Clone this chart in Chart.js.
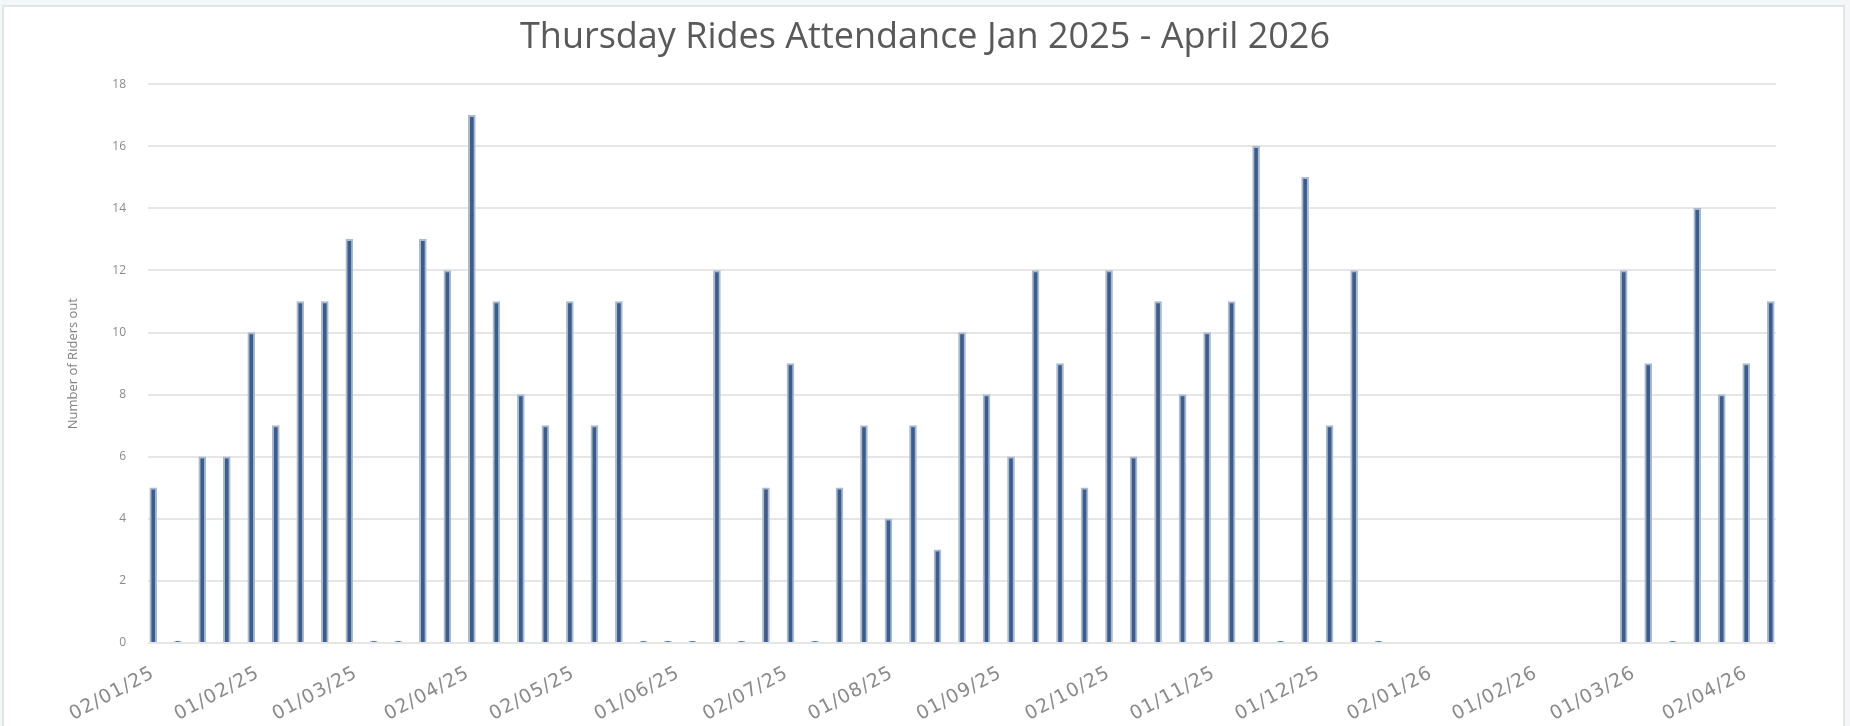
<!DOCTYPE html>
<html>
<head>
<meta charset="utf-8">
<title>Thursday Rides Attendance</title>
<script src="https://cdn.jsdelivr.net/npm/chart.js@4.4.1/dist/chart.umd.min.js"></script>
<style>
  html, body { margin: 0; padding: 0; background: #f2f7f7; overflow: hidden; }
  .frame { position: absolute; left: 2px; top: 5px; width: 1839px; height: 740px; background: #fff; border: 2px solid #e4e4e4; }
  .wrap { position: absolute; left: 0; top: 0; width: 1850px; height: 726px; }
</style>
</head>
<body>
<div class="frame"></div>
<div class="wrap"><canvas id="ridesChart"></canvas></div>
<script>
// ========== DATA ==========
// every Thursday, dd/mm/yy
const weeks = [
  "02/01/25", "09/01/25", "16/01/25", "23/01/25", "30/01/25",
  "06/02/25", "13/02/25", "20/02/25", "27/02/25",
  "06/03/25", "13/03/25", "20/03/25", "27/03/25",
  "03/04/25", "10/04/25", "17/04/25", "24/04/25",
  "01/05/25", "08/05/25", "15/05/25", "22/05/25", "29/05/25",
  "05/06/25", "12/06/25", "19/06/25", "26/06/25",
  "03/07/25", "10/07/25", "17/07/25", "24/07/25", "31/07/25",
  "07/08/25", "14/08/25", "21/08/25", "28/08/25",
  "04/09/25", "11/09/25", "18/09/25", "25/09/25",
  "02/10/25", "09/10/25", "16/10/25", "23/10/25", "30/10/25",
  "06/11/25", "13/11/25", "20/11/25", "27/11/25",
  "04/12/25", "11/12/25", "18/12/25", "25/12/25",
  "01/01/26", "08/01/26", "15/01/26", "22/01/26", "29/01/26",
  "05/02/26", "12/02/26", "19/02/26", "26/02/26",
  "05/03/26", "12/03/26", "19/03/26", "26/03/26",
  "02/04/26", "09/04/26"
];

// riders out each week, same rows as weeks above (null = no record)
const riders = [
  5, 0, 6, 6, 10,
  7, 11, 11, 13,
  0, 0, 13, 12,
  17, 11, 8, 7,
  11, 7, 11, 0, 0,
  0, 12, 0, 5,
  9, 0, 5, 7, 4,
  7, 3, 10, 8,
  6, 12, 9, 5,
  12, 6, 11, 8, 10,
  11, 16, 0, 15,
  7, 12, 0, null,
  null, null, null, null, null,
  null, null, null, 12,
  9, 0, 14, 8,
  9, 11
];

const tickLabels = [
  "02/01/25", "01/02/25", "01/03/25", "02/04/25", "02/05/25", "01/06/25",
  "02/07/25", "01/08/25", "01/09/25", "02/10/25", "01/11/25", "01/12/25",
  "02/01/26", "01/02/26", "01/03/26", "02/04/26"
];

const yTicks = [0, 2, 4, 6, 8, 10, 12, 14, 16, 18];

// dd/mm/yy -> days since the first Thursday
function toDay(s) {
  const [d, m, y] = s.split("/").map(Number);
  return Date.UTC(2000 + y, m - 1, d);
}
const day0 = toDay(weeks[0]);
const dayOf = (s) => (toDay(s) - day0) / 86400000;

const points = weeks.map((w, i) => ({ x: dayOf(w), y: riders[i] }));
const tickDays = tickLabels.map(dayOf);
const lastDay = dayOf(weeks[weeks.length - 1]);

// ========== CHART ==========
const axisGrey = "#8a8a8a";

// the date labels in the original are drawn loosely spaced
const spacedDates = {
  id: "spacedDates",
  afterLayout(chart) {
    const x = chart.scales.x;
    if (!x || x._spaced) return;
    const draw = x.drawLabels.bind(x);
    x.drawLabels = (area) => {
      chart.ctx.letterSpacing = "1px";
      draw(area);
      chart.ctx.letterSpacing = "0px";
    };
    x._spaced = true;
  },
};

new Chart(document.getElementById("ridesChart"), {
  type: "bar",
  data: {
    datasets: [
      {
        label: "Riders",
        data: points,
        backgroundColor: "#3d5c89",
        borderColor: "#a9b9cf",
        borderWidth: 2,
        borderSkipped: "start",
        barThickness: 7,
        minBarLength: 2,
      },
    ],
  },
  plugins: [spacedDates],
  options: {
    responsive: true,
    maintainAspectRatio: false,
    animation: false,
    layout: { padding: 0 },
    plugins: {
      legend: { display: false },
      tooltip: { enabled: false },
      title: {
        display: true,
        text: "Thursday Rides Attendance Jan 2025 - April 2026",
        color: "#595959",
        font: { family: "'Open Sans', sans-serif", size: 36, weight: "normal" },
        padding: { top: 16, bottom: 25 },
      },
    },
    scales: {
      x: {
        type: "linear",
        offset: false,
        min: -1.5,
        max: lastDay + 1.5,
        grid: { display: false, offset: false },
        border: { display: false },
        afterBuildTicks: (scale) => {
          scale.ticks = tickDays.map((v) => ({ value: v }));
        },
        afterFit: (scale) => {
          scale.height = 83;
        },
        ticks: {
          autoSkip: false,
          minRotation: 28,
          maxRotation: 28,
          padding: 11,
          color: axisGrey,
          font: { family: "'DejaVu Sans', sans-serif", size: 19 },
          callback: (v, i) => tickLabels[i],
        },
      },
      y: {
        min: 0,
        max: 18,
        afterBuildTicks: (scale) => {
          scale.ticks = yTicks.map((v) => ({ value: v }));
        },
        afterFit: (scale) => {
          scale.width = 148;
        },
        grid: { color: "#e6e6e6", lineWidth: 2, drawTicks: false },
        border: { display: false },
        ticks: {
          padding: 22,
          color: axisGrey,
          font: { family: "'Open Sans', sans-serif", size: 12 },
        },
        title: {
          display: true,
          text: "Number of Riders out",
          color: "#7f7f7f",
          font: { family: "'Open Sans', sans-serif", size: 13 },
          padding: { top: 65, bottom: 0 },
        },
      },
      // empty right gutter so the title stays centred on the page
      gutter: {
        position: "right",
        grid: { display: false },
        border: { display: false },
        ticks: { display: false },
        afterFit: (scale) => {
          scale.width = 74;
        },
      },
    },
  },
});
</script>
</body>
</html>
